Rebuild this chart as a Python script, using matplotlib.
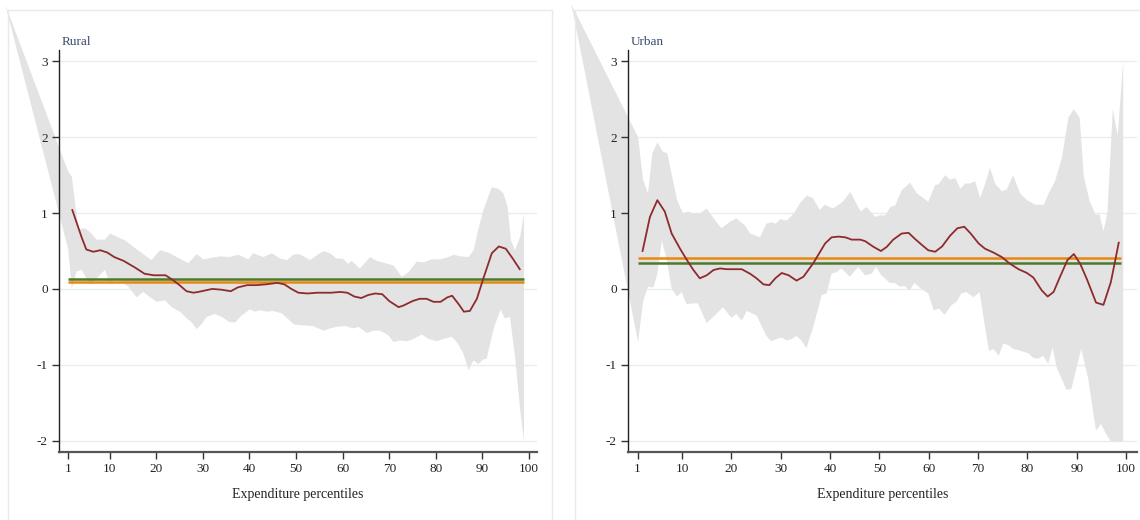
import numpy as np
import matplotlib
matplotlib.use("Agg")
import matplotlib.pyplot as plt
from matplotlib.patches import Rectangle

plt.rcParams["font.family"] = ["Liberation Serif", "DejaVu Serif"]
plt.rcParams["axes.unicode_minus"] = False

# ---- data -------------------------------------------------------------
x_ticks = [1, 10, 20, 30, 40, 50, 60, 70, 80, 90, 100]
y_ticks = [-2, -1, 0, 1, 2, 3]

# Rural: point estimate across percentiles
rural_x = [2, 4, 5, 6.5, 8, 9.5, 11, 13, 15.5, 17.5, 19.5, 22, 23.5, 25, 26.5,
           28, 29, 30.5, 32, 34, 36, 37.5, 39.5, 41.5, 43.5, 46, 47.5, 49, 50.5,
           52.5, 54.5, 57.5, 59.5, 61, 62.5, 64, 65.5, 67, 68.5, 70, 72, 73, 75,
           76.5, 78, 79.5, 81, 82.5, 83.5, 85, 86, 87.3, 88.8, 90.2, 92, 93.5,
           95, 96.5, 98]
rural_y = [1.04, 0.68, 0.52, 0.49, 0.51, 0.48, 0.42, 0.37, 0.28, 0.20, 0.18,
           0.18, 0.12, 0.05, -0.03, -0.05, -0.04, -0.02, 0.00, -0.01, -0.03,
           0.02, 0.05, 0.05, 0.06, 0.08, 0.06, 0.00, -0.05, -0.06, -0.05, -0.05,
           -0.04, -0.05, -0.10, -0.12, -0.08, -0.06, -0.07, -0.16, -0.24, -0.22,
           -0.16, -0.13, -0.13, -0.17, -0.17, -0.11, -0.09, -0.21, -0.30, -0.29,
           -0.13, 0.14, 0.47, 0.56, 0.53, 0.40, 0.26]

# Rural: confidence band
rural_hi_x = [-12.4, 1.1, 1.9, 3.3, 4.7, 5.8, 7.2, 9.0, 10.1, 11.5, 13.3, 15.1,
              17.2, 19.0, 20.8, 22.6, 24.4, 26.9, 28.7, 30.1, 31.9, 33.7, 35.8,
              37.6, 39.8, 40.8, 43.0, 44.8, 46.6, 48.1, 49.4, 50.6, 51.6, 53.0,
              54.4, 55.9, 57.3, 58.7, 60.0, 61.2, 61.9, 63.7, 65.9, 67.3, 69.1,
              70.9, 72.7, 74.1, 75.9, 77.4, 79.1, 80.9, 82.7, 83.8, 85.2, 87.0,
              88.1, 89.1, 90.2, 92.0, 93.4, 94.5, 95.4, 96.1, 97.0, 98.1, 98.9]
rural_hi_y = [3.75, 1.55, 1.48, 0.78, 0.80, 0.75, 0.65, 0.65, 0.73, 0.69, 0.64,
              0.555, 0.46, 0.38, 0.51, 0.48, 0.42, 0.34, 0.46, 0.39, 0.41, 0.43,
              0.42, 0.45, 0.39, 0.47, 0.42, 0.47, 0.40, 0.38, 0.45, 0.46, 0.43,
              0.38, 0.44, 0.50, 0.47, 0.40, 0.40, 0.33, 0.37, 0.27, 0.42, 0.37,
              0.34, 0.31, 0.16, 0.22, 0.36, 0.35, 0.39, 0.39, 0.42, 0.45, 0.43,
              0.42, 0.51, 0.78, 1.04, 1.34, 1.32, 1.26, 1.08, 0.64, 0.51, 0.69,
              0.99]
rural_lo_x = [-12.4, 1.1, 1.9, 2.9, 4.0, 5.8, 7.2, 9.0, 10.1, 11.2, 12.2, 14.0,
              15.8, 17.2, 18.7, 20.1, 21.9, 23.3, 25.1, 26.6, 27.6, 28.7, 29.8,
              30.8, 32.6, 34.1, 35.8, 37.0, 38.3, 40.1, 41.2, 42.3, 43.7, 45.0,
              46.9, 48.0, 49.6, 51.6, 53.7, 55.9, 57.3, 58.7, 60.5, 62.3, 63.4,
              65.2, 66.6, 68.0, 69.8, 70.9, 72.3, 73.8, 75.2, 77.0, 78.4, 80.2,
              81.6, 83.4, 84.5, 85.9, 87.0, 88.1, 89.1, 90.2, 90.9, 92.5, 93.9,
              94.8, 95.9, 97.0, 98.1, 98.9]
rural_lo_y = [3.75, 0.53, 0.005, 0.23, 0.25, 0.06, 0.14, 0.25, 0.06, 0.14, 0.11,
              0.03, -0.11, -0.04, -0.11, -0.17, -0.15, -0.24, -0.30, -0.39, -0.44,
              -0.53, -0.46, -0.37, -0.33, -0.37, -0.44, -0.44, -0.35, -0.27, -0.30,
              -0.28, -0.30, -0.29, -0.32, -0.38, -0.47, -0.48, -0.49, -0.55, -0.52,
              -0.50, -0.49, -0.52, -0.50, -0.58, -0.55, -0.55, -0.61, -0.70, -0.68,
              -0.69, -0.66, -0.60, -0.66, -0.69, -0.66, -0.63, -0.70, -0.85, -1.07,
              -0.94, -0.99, -0.93, -0.92, -0.50, -0.27, -0.39, -0.37, -0.90, -1.60,
              -2.00]
rural_mean_a = 0.137   # green reference line
rural_mean_b = 0.092   # orange reference line

# Urban: point estimate across percentiles
urban_x = [2.0, 3.5, 5.0, 6.5, 7.9, 9.6, 10.9, 12.3, 13.6, 15.0, 16.4, 17.7,
           19.1, 20.4, 22.1, 23.8, 25.1, 26.5, 27.7, 28.9, 30.2, 31.6, 33.2,
           34.6, 35.6, 36.6, 39.0, 40.3, 41.7, 43.1, 44.4, 46.1, 47.1, 48.8,
           50.3, 51.5, 52.8, 54.5, 55.9, 57.2, 58.6, 59.9, 61.3, 62.7, 64.3,
           65.8, 67.2, 68.5, 70.1, 71.4, 73.1, 74.8, 76.5, 78.2, 79.9, 81.2,
           82.9, 84.1, 85.3, 86.6, 88.1, 89.4, 90.7, 92.1, 93.9, 95.4, 96.9,
           97.8, 98.5]
urban_y = [0.50, 0.95, 1.17, 1.02, 0.73, 0.53, 0.39, 0.25, 0.14, 0.18, 0.25,
           0.27, 0.26, 0.26, 0.26, 0.20, 0.14, 0.06, 0.05, 0.14, 0.21, 0.18,
           0.11, 0.16, 0.25, 0.34, 0.60, 0.68, 0.69, 0.68, 0.65, 0.65, 0.63,
           0.555, 0.50, 0.555, 0.65, 0.73, 0.74, 0.66, 0.58, 0.51, 0.49, 0.56,
           0.70, 0.80, 0.82, 0.73, 0.60, 0.53, 0.48, 0.42, 0.33, 0.26, 0.21,
           0.15, -0.02, -0.10, -0.04, 0.16, 0.38, 0.46, 0.33, 0.12, -0.18,
           -0.21, 0.09, 0.38, 0.61]

# Urban: confidence band
urban_hi_x = [-12.4, 1.1, 2.1, 3.1, 4.0, 5.0, 6.1, 7.0, 9.0, 10.2, 11.2, 12.2,
              13.5, 15.0, 16.4, 18.0, 19.7, 21.0, 22.7, 23.8, 25.8, 27.1, 28.1,
              29.0, 29.9, 31.2, 32.7, 33.9, 35.3, 36.5, 37.9, 38.9, 40.6, 42.6,
              44.1, 45.3, 46.2, 47.4, 49.1, 50.1, 51.2, 52.2, 53.2, 54.5, 56.2,
              57.6, 59.9, 61.3, 62.0, 63.3, 64.3, 65.4, 66.4, 67.4, 68.4, 69.4,
              70.4, 71.4, 72.4, 73.5, 74.8, 75.8, 77.1, 78.5, 79.9, 81.6, 83.3,
              84.3, 85.6, 87.0, 88.3, 89.4, 90.6, 91.4, 92.6, 93.8, 94.6, 95.4,
              96.2, 97.3, 98.3, 99.4]
urban_hi_y = [3.75, 2.00, 1.44, 1.26, 1.79, 1.93, 1.81, 1.79, 1.17, 1.00, 1.02,
              1.00, 0.99, 1.06, 0.93, 0.80, 0.885, 0.93, 0.84, 0.73, 0.68, 0.86,
              0.88, 0.86, 0.92, 0.90, 1.00, 1.13, 1.23, 1.20, 1.04, 1.11, 1.06,
              1.15, 1.28, 1.13, 1.02, 1.08, 0.95, 0.97, 0.97, 1.08, 1.10, 1.30,
              1.40, 1.26, 1.15, 1.37, 1.38, 1.50, 1.44, 1.46, 1.32, 1.39, 1.39,
              1.42, 1.20, 1.38, 1.60, 1.38, 1.29, 1.31, 1.50, 1.26, 1.17, 1.11,
              1.11, 1.26, 1.42, 1.73, 2.26, 2.37, 2.25, 1.49, 1.16, 0.98, 0.98,
              0.76, 1.00, 2.37, 2.02, 3.01]
urban_lo_x = [-12.4, 1.1, 2.1, 3.1, 4.2, 5.0, 5.9, 6.9, 7.9, 9.0, 9.9, 10.9,
              12.2, 13.2, 15.0, 16.6, 18.3, 20.0, 21.0, 22.1, 23.1, 25.1, 27.1,
              28.1, 29.2, 30.2, 31.2, 32.2, 33.2, 34.2, 35.2, 36.6, 38.3, 39.3,
              40.3, 41.3, 42.3, 44.0, 45.7, 47.1, 48.4, 49.3, 50.4, 52.1, 53.1,
              54.1, 55.1, 56.1, 57.1, 58.5, 59.9, 61.0, 62.1, 63.2, 64.5, 65.6,
              66.6, 67.6, 69.1, 70.3, 71.3, 72.2, 73.1, 74.2, 75.1, 76.1, 77.1,
              78.8, 80.2, 81.2, 82.2, 83.2, 84.2, 85.1, 85.9, 87.9, 88.9, 89.9,
              90.9, 92.3, 93.9, 94.9, 95.9, 96.9, 99.4]
urban_lo_y = [3.75, -0.70, -0.17, 0.03, 0.02, 0.20, 0.64, 0.38, 0.00, -0.10,
              -0.04, -0.20, -0.19, -0.19, -0.45, -0.35, -0.24, -0.38, -0.33, -0.42,
              -0.29, -0.35, -0.62, -0.69, -0.66, -0.64, -0.68, -0.66, -0.62, -0.68,
              -0.78, -0.50, -0.08, -0.06, 0.20, 0.22, 0.27, 0.16, 0.29, 0.18, 0.20,
              0.29, 0.18, 0.08, 0.08, 0.03, 0.04, -0.02, 0.08, 0.00, -0.06, -0.28,
              -0.26, -0.34, -0.22, -0.17, -0.06, -0.04, -0.11, -0.04, -0.46, -0.82,
              -0.79, -0.88, -0.72, -0.74, -0.79, -0.82, -0.85, -0.91, -0.92, -0.88,
              -0.99, -0.77, -1.03, -1.33, -1.32, -1.05, -0.79, -1.18, -1.87, -1.78,
              -1.91, -2.01, -2.01]
urban_mean_a = 0.34    # green reference line
urban_mean_b = 0.405   # orange reference line

ref_span = (1, 99)

# ---- styling ------------------------------------------------------------
BAND = "#e3e3e3"
RED = "#8f2a2e"
GREEN = "#4d7a2a"
ORANGE = "#e8890f"
GRID = "#e5eef0"
SPINE = "#333333"
TITLE = "#3b4a6e"
FRAME = "#e2ecec"

fig = plt.figure(figsize=(11.4, 5.2), dpi=100)
W, H = 1140.0, 520.0

# light frames around each panel
fig.patches.append(Rectangle((8 / W, -0.05), (552 - 8) / W, 1 - 10 / H + 0.05,
                             transform=fig.transFigure, fill=False,
                             edgecolor=FRAME, lw=1.0))
fig.patches.append(Rectangle((575 / W, -0.05), (1150 - 575) / W, 1 - 10 / H + 0.05,
                             transform=fig.transFigure, fill=False,
                             edgecolor=FRAME, lw=1.0))


def panel(rect, xlim, title, hx, hy, lx, ly, px, py, ma, mb):
    ax = fig.add_axes(rect)
    ax.set_xlim(*xlim)
    ax.set_ylim(-2.15, 3.15)
    for y in y_ticks:
        ax.axhline(y, color=GRID, lw=1.0, zorder=0)
    bx = np.r_[hx, lx[::-1]]
    by = np.r_[hy, ly[::-1]]
    ax.fill(bx, by, color=BAND, lw=0, zorder=1, clip_on=False)
    ax.plot(ref_span, [ma, ma], color=GREEN, lw=1.8, zorder=3, solid_capstyle="butt")
    ax.plot(ref_span, [mb, mb], color=ORANGE, lw=1.8, zorder=3, solid_capstyle="butt")
    ax.plot(px, py, color=RED, lw=1.3, zorder=4)

    for s in ("top", "right"):
        ax.spines[s].set_visible(False)
    ax.spines["left"].set_color("#222222")
    ax.spines["left"].set_linewidth(1.0)
    ax.spines["bottom"].set_color("#555555")
    ax.spines["bottom"].set_linewidth(1.6)

    ax.set_xticks(x_ticks)
    ax.set_yticks(y_ticks)
    ax.tick_params(axis="both", direction="out", length=5, width=1.0,
                   color=SPINE, labelsize=9.5, labelcolor="#222222", pad=3)
    ax.set_xlabel("Expenditure percentiles", fontsize=10, color="#222222",
                  labelpad=9)
    ax.text(0.005, 1.006, title, transform=ax.transAxes, fontsize=9.5,
            color=TITLE, ha="left", va="bottom")
    ax.set_facecolor("none")
    return ax


panel([59 / W, 1 - 452 / H, (537 - 59) / W, (452 - 50) / H], (-0.86, 101.7),
      "Rural", rural_hi_x, rural_hi_y, rural_lo_x, rural_lo_y,
      rural_x, rural_y, rural_mean_a, rural_mean_b)
panel([628 / W, 1 - 452 / H, (1137 - 628) / W, (452 - 50) / H], (-0.95, 102.2),
      "Urban", urban_hi_x, urban_hi_y, urban_lo_x, urban_lo_y,
      urban_x, urban_y, urban_mean_a, urban_mean_b)

fig.savefig("out.png", dpi=100, facecolor="white")
